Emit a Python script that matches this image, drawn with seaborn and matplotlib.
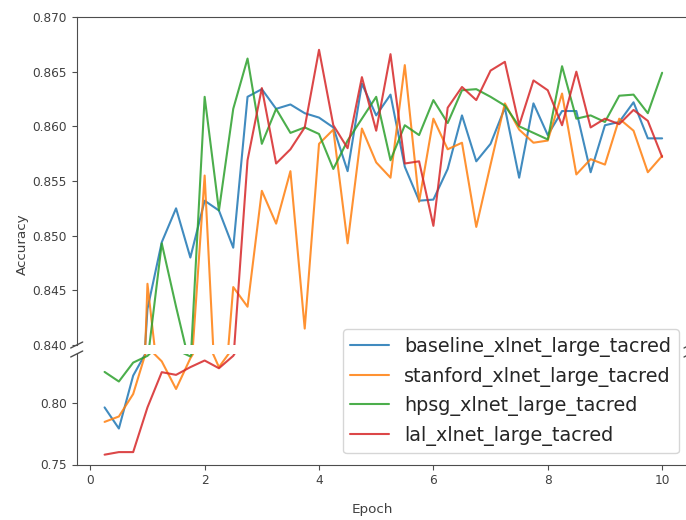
import matplotlib
matplotlib.use("Agg")
import matplotlib.pyplot as plt
from matplotlib.lines import Line2D
import numpy as np
import pandas as pd
import seaborn as sns

epochs = [0.25, 0.5, 0.75, 1.0, 1.25, 1.5, 1.75, 2.0, 2.25, 2.5,
          2.75, 3.0, 3.25, 3.5, 3.75, 4.0, 4.25, 4.5, 4.75, 5.0,
          5.25, 5.5, 5.75, 6.0, 6.25, 6.5, 6.75, 7.0, 7.25, 7.5,
          7.75, 8.0, 8.25, 8.5, 8.75, 9.0, 9.25, 9.5, 9.75, 10.0]

baseline = [0.7965, 0.7793, 0.8224, 0.8433, 0.8494, 0.8525, 0.8480, 0.8532, 0.8523, 0.8489,
            0.8627, 0.8634, 0.8616, 0.8620, 0.8612, 0.8608, 0.8599, 0.8559, 0.8639, 0.8610,
            0.8629, 0.8563, 0.8532, 0.8533, 0.8561, 0.8610, 0.8568, 0.8584, 0.8617, 0.8553,
            0.8621, 0.8592, 0.8614, 0.8614, 0.8558, 0.8601, 0.8604, 0.8622, 0.8589, 0.8589]

stanford = [0.7847, 0.7891, 0.8074, 0.8456, 0.8340, 0.8115, 0.8365, 0.8555, 0.8293, 0.8453,
            0.8435, 0.8541, 0.8511, 0.8559, 0.8415, 0.8584, 0.8597, 0.8493, 0.8598, 0.8567,
            0.8553, 0.8656, 0.8531, 0.8607, 0.8579, 0.8585, 0.8508, 0.8565, 0.8621, 0.8597,
            0.8585, 0.8587, 0.8630, 0.8556, 0.8570, 0.8565, 0.8607, 0.8596, 0.8558, 0.8573]

hpsg = [0.8254, 0.8176, 0.8330, 0.8385, 0.8493, 0.8435, 0.8380, 0.8627, 0.8523, 0.8616,
        0.8662, 0.8584, 0.8616, 0.8594, 0.8599, 0.8593, 0.8561, 0.8587, 0.8607, 0.8627,
        0.8569, 0.8601, 0.8592, 0.8624, 0.8603, 0.8633, 0.8634, 0.8627, 0.8619, 0.8600,
        0.8594, 0.8588, 0.8655, 0.8607, 0.8610, 0.8604, 0.8628, 0.8629, 0.8612, 0.8649]

lal = [0.7580, 0.7601, 0.7601, 0.7965, 0.8252, 0.8230, 0.8293, 0.8347, 0.8284, 0.8385,
       0.8569, 0.8635, 0.8566, 0.8579, 0.8599, 0.8670, 0.8601, 0.8580, 0.8645, 0.8596,
       0.8666, 0.8566, 0.8568, 0.8509, 0.8617, 0.8636, 0.8624, 0.8651, 0.8659, 0.8601,
       0.8642, 0.8633, 0.8601, 0.8650, 0.8599, 0.8607, 0.8602, 0.8615, 0.8605, 0.8572]

labels = ["baseline_xlnet_large_tacred", "stanford_xlnet_large_tacred",
          "hpsg_xlnet_large_tacred", "lal_xlnet_large_tacred"]
upper_ticks = [0.840, 0.845, 0.850, 0.855, 0.860, 0.865, 0.870]
lower_ticks = [0.75, 0.80]
x_ticks = [0, 2, 4, 6, 8, 10]

series = [baseline, stanford, hpsg, lal]
df = pd.concat([pd.DataFrame({"Epoch": epochs, "Accuracy": s, "model": lab})
                for s, lab in zip(series, labels)], ignore_index=True)

sns.set_style("ticks")
plt.rcParams['font.family'] = ['DejaVu Sans']
plt.rcParams['axes.edgecolor'] = '0.3'
plt.rcParams['xtick.color'] = '0.3'
plt.rcParams['ytick.color'] = '0.3'

palette = sns.color_palette("tab10", 4)

fig = plt.figure(figsize=(6.86, 5.2), dpi=100)
left = 76.7 / 686
width = (690 - 76.7) / 686
ax_top = fig.add_axes([left, 1 - 345 / 520, width, 328 / 520])
ax_bot = fig.add_axes([left, 1 - 464.5 / 520, width, 110.5 / 520])

for ax in (ax_top, ax_bot):
    sns.lineplot(data=df, x="Epoch", y="Accuracy", hue="model", hue_order=labels,
                 palette=palette, ax=ax, legend=False, linewidth=1.5, alpha=0.85,
                 estimator=None, sort=False)
    ax.set_xlim(-0.2375, 10.4875)
    ax.set_xlabel("")
    ax.set_ylabel("")
    ax.tick_params(labelsize=8.7, labelcolor='0.25', length=3.5, width=0.8)

ax_top.set_ylim(0.840, 0.870)
ax_top.set_yticks(upper_ticks)
ax_top.set_yticklabels([f"{v:.3f}" for v in upper_ticks])
ax_top.spines['bottom'].set_visible(False)
ax_top.tick_params(axis='x', bottom=False, labelbottom=False)

ax_bot.set_ylim(0.75, 0.84)
ax_bot.set_yticks(lower_ticks)
ax_bot.set_yticklabels([f"{v:.2f}" for v in lower_ticks])
ax_bot.set_xticks(x_ticks)
ax_bot.spines['top'].set_visible(False)

# break marks
dx = 6 / 613.3
dy_t = 3 / 328
dy_b = 3 / 110.5
kw = dict(color='0.3', lw=1.0, clip_on=False)
ax_top.plot((-dx, dx), (-dy_t, dy_t), transform=ax_top.transAxes, **kw)
ax_top.plot((1 - dx, 1 + dx), (-dy_t, dy_t), transform=ax_top.transAxes, **kw)
ax_bot.plot((-dx, dx), (1 - dy_b, 1 + dy_b), transform=ax_bot.transAxes, **kw)
ax_bot.plot((1 - dx, 1 + dx), (1 - dy_b, 1 + dy_b), transform=ax_bot.transAxes, **kw)

fig.text(22.7 / 686, 1 - 244 / 520, "Accuracy", rotation=90, ha='center', va='center',
         fontsize=9.7, color='0.25')
fig.text(372 / 686, 1 - 510 / 520, "Epoch", ha='center', va='center',
         fontsize=9.7, color='0.25')

handles = [Line2D([0], [0], color=c, lw=1.5, alpha=0.85) for c in palette]
fig.legend(handles, labels, loc='upper left', bbox_to_anchor=(342.7 / 686, 1 - 329.3 / 520),
           fontsize=13.8, frameon=True, edgecolor='0.8', framealpha=0.8,
           borderaxespad=0, labelcolor='0.15')

fig.savefig("out.png", dpi=100)
